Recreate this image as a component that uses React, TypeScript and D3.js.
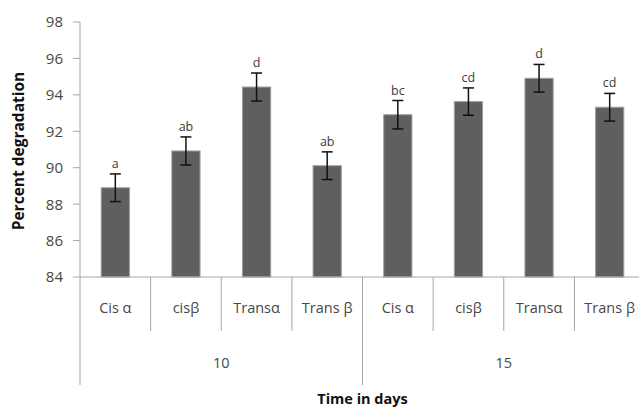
import React, { useEffect, useRef } from "react";
import * as d3 from "d3";

// data
const groups = ["10", "15"];
const treatments = ["Cis α", "cisβ", "Transα", "Trans β"];
const values = [88.9, 90.92, 94.43, 90.11, 92.91, 93.63, 94.91, 93.32];
const errors = [0.76, 0.77, 0.77, 0.76, 0.78, 0.75, 0.76, 0.76];
const letters = ["a", "ab", "d", "ab", "bc", "cd", "d", "cd"];
const yTicks = [84, 86, 88, 90, 92, 94, 96, 98];

const App = () => {
  const ref = useRef<SVGSVGElement>(null);

  useEffect(() => {
    const svg = d3.select(ref.current);
    svg.selectAll("*").remove();

    const width = 639;
    const height = 408;
    const margin = { top: 22, left: 80, right: -6, bottom: 131 };
    const plotBottom = height - margin.bottom; // 277
    const plotRight = width - margin.right; // 645

    svg.attr("width", width).attr("height", height);

    const font = "'Open Sans', 'DejaVu Sans', sans-serif";
    const axisColor = "#a6a6a6";
    const textColor = "#474747";

    const cats = groups.flatMap((g) => treatments.map((t) => `${g}|${t}`));

    const x = d3
      .scaleBand()
      .domain(cats)
      .range([margin.left, plotRight])
      .paddingInner(0)
      .paddingOuter(0);

    const y = d3.scaleLinear().domain([84, 98]).range([plotBottom, margin.top]);

    const barW = x.bandwidth() * 0.4;

    // y axis
    svg
      .append("line")
      .attr("x1", margin.left)
      .attr("x2", margin.left)
      .attr("y1", margin.top)
      .attr("y2", plotBottom)
      .attr("stroke", axisColor);

    svg
      .selectAll(".ytick")
      .data(yTicks)
      .enter()
      .append("line")
      .attr("x1", margin.left - 7)
      .attr("x2", margin.left)
      .attr("y1", (d) => y(d))
      .attr("y2", (d) => y(d))
      .attr("stroke", axisColor);

    svg
      .selectAll(".ylabel")
      .data(yTicks)
      .enter()
      .append("text")
      .attr("x", margin.left - 17)
      .attr("y", (d) => y(d))
      .attr("dy", "0.36em")
      .attr("text-anchor", "end")
      .attr("fill", textColor)
      .style("font-family", font)
      .style("font-size", "15px")
      .text((d) => d);

    // bars
    svg
      .selectAll(".bar")
      .data(values)
      .enter()
      .append("rect")
      .attr("x", (d, i) => x(cats[i])! + (x.bandwidth() - barW) / 2)
      .attr("y", (d) => y(d))
      .attr("width", barW)
      .attr("height", (d) => plotBottom - y(d))
      .attr("fill", "#5f5f5f")
      .attr("stroke", "#a0a0a0")
      .attr("stroke-width", 1);

    // error bars
    const eb = svg
      .selectAll(".err")
      .data(values)
      .enter()
      .append("g")
      .attr("stroke", "#111")
      .attr("stroke-width", 1.5);

    const cx = (i: number) => x(cats[i])! + x.bandwidth() / 2;

    eb.append("line")
      .attr("x1", (d, i) => cx(i))
      .attr("x2", (d, i) => cx(i))
      .attr("y1", (d, i) => y(d + errors[i]))
      .attr("y2", (d, i) => y(d - errors[i]));
    eb.append("line")
      .attr("x1", (d, i) => cx(i) - 5.5)
      .attr("x2", (d, i) => cx(i) + 5.5)
      .attr("y1", (d, i) => y(d + errors[i]))
      .attr("y2", (d, i) => y(d + errors[i]));
    eb.append("line")
      .attr("x1", (d, i) => cx(i) - 5.5)
      .attr("x2", (d, i) => cx(i) + 5.5)
      .attr("y1", (d, i) => y(d - errors[i]))
      .attr("y2", (d, i) => y(d - errors[i]));

    // significance letters
    svg
      .selectAll(".letter")
      .data(values)
      .enter()
      .append("text")
      .attr("x", (d, i) => cx(i))
      .attr("y", (d, i) => y(d + errors[i]) - 6)
      .attr("text-anchor", "middle")
      .attr("fill", "#3a3a3a")
      .style("font-family", font)
      .style("font-size", "12.5px")
      .text((d, i) => letters[i]);

    // x axis line
    svg
      .append("line")
      .attr("x1", margin.left)
      .attr("x2", plotRight)
      .attr("y1", plotBottom)
      .attr("y2", plotBottom)
      .attr("stroke", axisColor);

    // category separators
    cats.forEach((c, i) => {
      if (i === 0) return;
      const xs = x(c)!;
      const isGroup = i % treatments.length === 0;
      svg
        .append("line")
        .attr("x1", xs)
        .attr("x2", xs)
        .attr("y1", plotBottom)
        .attr("y2", isGroup ? 385 : 331)
        .attr("stroke", axisColor);
    });
    svg
      .append("line")
      .attr("x1", margin.left)
      .attr("x2", margin.left)
      .attr("y1", plotBottom)
      .attr("y2", 385)
      .attr("stroke", axisColor);

    // category labels
    svg
      .selectAll(".clabel")
      .data(cats)
      .enter()
      .append("text")
      .attr("x", (d) => x(d)! + x.bandwidth() / 2)
      .attr("y", 308)
      .attr("dy", "0.35em")
      .attr("text-anchor", "middle")
      .attr("fill", textColor)
      .style("font-family", font)
      .style("font-size", "14.5px")
      .text((d) => d.split("|")[1]);

    // group labels
    svg
      .selectAll(".glabel")
      .data(groups)
      .enter()
      .append("text")
      .attr("x", (g) => {
        const first = x(`${g}|${treatments[0]}`)!;
        const last = x(`${g}|${treatments[treatments.length - 1]}`)! + x.bandwidth();
        return (first + last) / 2;
      })
      .attr("y", 363)
      .attr("dy", "0.35em")
      .attr("text-anchor", "middle")
      .attr("fill", textColor)
      .style("font-family", font)
      .style("font-size", "14.5px")
      .text((g) => g);

    // axis titles
    svg
      .append("text")
      .attr("x", x(`${groups[1]}|${treatments[0]}`)!)
      .attr("y", 399)
      .attr("dy", "0.35em")
      .attr("text-anchor", "middle")
      .attr("fill", "#111")
      .style("font-family", font)
      .style("font-size", "14.5px")
      .style("font-weight", "bold")
      .text("Time in days");

    svg
      .append("text")
      .attr("transform", `translate(19,151) rotate(-90)`)
      .attr("dy", "0.35em")
      .attr("text-anchor", "middle")
      .attr("fill", "#111")
      .style("font-family", font)
      .style("font-size", "15.5px")
      .style("font-weight", "bold")
      .text("Percent degradation");
  }, []);

  return (
    <svg
      ref={ref}
      style={{ position: "absolute", left: 0, top: 0, display: "block" }}
    ></svg>
  );
};

export default App;
